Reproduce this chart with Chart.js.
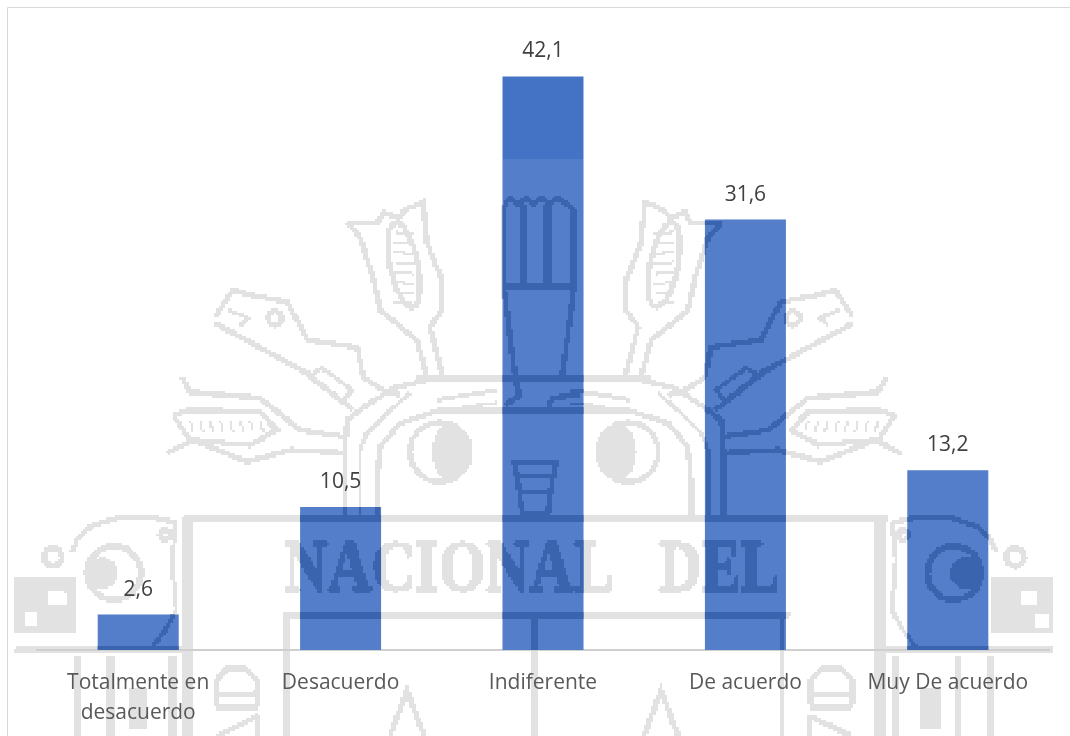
<!DOCTYPE html>
<html>
<head>
<meta charset="utf-8">
<style>
html,body{margin:0;padding:0;background:#fff;overflow:hidden}
#wrap{width:1070px;height:736px;position:relative}
</style>
<script src="https://cdn.jsdelivr.net/npm/chart.js@4"></script>
</head>
<body>
<div id="wrap"><canvas id="c" width="1070" height="736"></canvas></div>
<script>
const categories = [['Totalmente en','desacuerdo'],'Desacuerdo','Indiferente','De acuerdo','Muy De acuerdo'];
const percentages = [2.6, 10.5, 42.1, 31.6, 13.2];
const barColor = '#4472C4';
const UI_FONT = '"Open Sans", sans-serif';

// Crest behind the plot, rasterised coarsely into a one-colour mask.
const CELL = 2.3, W = 1070, H = 736, AXIS = 534;
function crestShapes(g){
  const line = (pts, w, close) => {
    g.lineWidth = w || 5; g.beginPath();
    pts.forEach((p,i)=> i ? g.lineTo(p[0],p[1]) : g.moveTo(p[0],p[1]));
    if (close) g.closePath();
    g.stroke();
  };
  const ring = (x,y,r,w) => { g.lineWidth = w||5; g.beginPath(); g.arc(x,y,r,0,Math.PI*2); g.stroke(); };
  const box = (x,y,w,h) => g.fillRect(x,y,w,h);
  const oval = (x,y,rx,ry,rot,w) => { g.lineWidth = w||5; g.beginPath(); g.ellipse(x,y,rx,ry,rot,0,Math.PI*2); g.stroke(); };
  const halves = (draw) => {
    g.save(); draw(); g.restore();
    g.save(); g.translate(2*AXIS,0); g.scale(-1,1); draw(); g.restore();
  };

  // frame bands and centre post
  box(183,516,704,6);
  box(283,612,507,6);
  box(531,612,8,124);

  // lettering
  g.font = 'bold 71px "Liberation Serif", serif';
  g.lineWidth = 2;
  const fit = (t,x0,x1) => {
    g.save(); g.translate(x0,590);
    g.scale((x1-x0)/g.measureText(t).width,1);
    g.fillText(t,0,0); g.strokeText(t,0,0); g.restore();
  };
  fit('NACIONAL',284,614);
  fit('DEL',659,780);

  // torch
  line([[503,290],[503,208],[510,198],[518,204],[526,198],[534,204],[542,198],[550,204],[558,198],[566,204],[574,210],[574,290]],5);
  box(519,204,8,80); box(544,204,8,80);
  box(503,283,72,6);
  line([[504,289],[515,377]],5); line([[574,289],[562,377]],5);
  box(417,375,234,6);
  line([[515,380],[520,395],[505,405]],5);
  line([[580,395],[552,398],[548,412]],5);
  box(437,408,194,5);
  // urn under the torch
  line([[514,462],[556,462],[552,482],[548,514],[522,514],[518,482]],5,true);
  box(519,474,32,4); box(521,490,28,4);

  halves(() => {
    // arches
    line([[345,516],[345,448],[347,420],[367,405],[393,388],[427,380]],5);
    line([[360,516],[360,450],[367,433],[387,413],[410,393]],4);
    line([[377,516],[377,480],[380,447],[400,423],[437,411]],5);
    line([[437,400],[497,390]],4);
    line([[462,407],[497,403]],3);

    // tulip
    line([[347,223],[378,222],[383,212],[398,218],[405,210],[423,202],[427,243],[442,280],[442,310],[430,327],[443,377]],5);
    line([[347,223],[360,237],[373,277],[380,310],[417,340],[427,378]],5);
    oval(404,265,14,43,-0.2,5);
    for (let y=232;y<305;y+=10){ line([[394,y],[414,y+2]],2); }

    // bird head and neck
    line([[215,317],[233,290],[250,295],[287,302],[297,320],[307,340],[357,347],[363,377],[383,390],[400,395]],5);
    line([[215,323],[307,373],[353,410]],5);
    line([[228,310],[248,318],[240,326]],4);
    ring(275,318,7,5);
    line([[308,376],[322,368],[352,390],[342,402]],4,true);

    // maize leaf
    line([[182,377],[190,392],[260,398],[300,430],[347,437]],5);
    line([[173,415],[190,410],[260,412],[277,430],[250,445],[190,440],[173,415]],5);
    line([[167,453],[193,440],[247,462],[290,450],[345,453]],5);
    for (let x=190;x<266;x+=10){ line([[x,420],[x+3,432]],2); }

    // medallion with crescent
    ring(440,452,30,5);
    g.beginPath(); g.ellipse(450,452,18,28,0,0,Math.PI*2); g.fill();

    // lower beast: head, eye, corner block
    line([[72,552],[78,538],[92,526],[117,518],[150,517],[176,523]],5);
    line([[176,523],[172,560],[176,610],[165,630],[150,650]],4);
    ring(114,573,27,6);
    g.beginPath(); g.arc(102,573,16,0,Math.PI*2); g.fill();
    ring(53,557,9,6);
    ring(165,535,5,5);
    box(15,577,61,56);
    box(15,647,169,6);

    // legs and base below the band
    box(183,520,10,216);
    box(283,612,6,124);
    box(74,655,7,81); box(107,655,7,81); box(128,687,20,43); box(169,655,7,81);

    // small lamp and horns at the foot
    line([[216,705],[216,680],[228,668],[245,668],[257,680],[257,705]],5);
    box(216,692,42,5); box(216,705,42,5);
    line([[217,736],[258,716]],5); line([[258,716],[258,736]],5);
    line([[390,736],[407,690],[424,736]],5);
  });

  // clear the windows inside the corner blocks
  g.globalCompositeOperation = 'destination-out';
  [[48,592,18,14],[24,612,14,14],[1020,592,18,14],[1034,614,14,14]].forEach(r => box(r[0],r[1],r[2],r[3]));
  g.globalCompositeOperation = 'source-over';
}

function crestMask(color){
  const w = Math.ceil(W/CELL), h = Math.ceil(H/CELL);
  const off = document.createElement('canvas'); off.width = w; off.height = h;
  const g = off.getContext('2d');
  g.scale(1/CELL,1/CELL);
  g.fillStyle = g.strokeStyle = '#000';
  crestShapes(g);
  const img = g.getImageData(0,0,w,h), d = img.data;
  const rgb = [parseInt(color.slice(1,3),16),parseInt(color.slice(3,5),16),parseInt(color.slice(5,7),16)];
  for (let i=0;i<d.length;i+=4){
    const on = d[i+3] > 105;
    d[i]=rgb[0]; d[i+1]=rgb[1]; d[i+2]=rgb[2]; d[i+3]= on ? 255 : 0;
  }
  g.putImageData(img,0,0);
  return off;
}
const maskLight = crestMask('#E2E2E2');
const maskDark = crestMask('#3B64AE');
const CREST_TOP = 159;

function paintMask(ctx, mask){
  ctx.save();
  ctx.imageSmoothingEnabled = false;
  ctx.drawImage(mask,0,0,Math.ceil(W/CELL)*CELL,Math.ceil(H/CELL)*CELL);
  ctx.restore();
}

const crestPlugin = {
  id:'crest',
  beforeDraw(chart){
    const ctx = chart.ctx;
    paintMask(ctx, maskLight);
    ctx.save();
    ctx.strokeStyle = '#D9D9D9'; ctx.lineWidth = 1;
    ctx.beginPath(); ctx.moveTo(7.5,736); ctx.lineTo(7.5,7.5); ctx.lineTo(1070,7.5); ctx.stroke();
    ctx.restore();
  },
  afterDatasetsDraw(chart){
    const ctx = chart.ctx;
    chart.getDatasetMeta(0).data.forEach(bar => {
      const x = bar.x - bar.width/2;
      ctx.save();
      ctx.beginPath(); ctx.rect(x, bar.y, bar.width, bar.base - bar.y); ctx.clip();
      ctx.fillStyle = 'rgba(255,255,255,0.09)';
      ctx.fillRect(x, CREST_TOP, bar.width, H);
      paintMask(ctx, maskDark);
      ctx.restore();
    });
  },
  afterDraw(chart){
    const ctx = chart.ctx;
    ctx.save();
    ctx.font = '21px ' + UI_FONT;
    ctx.fillStyle = '#404040';
    ctx.textAlign = 'center'; ctx.textBaseline = 'middle';
    chart.getDatasetMeta(0).data.forEach((bar,i) => {
      ctx.fillText(String(percentages[i]).replace('.',','), bar.x, bar.y - 25);
    });
    ctx.restore();
  }
};

new Chart(document.getElementById('c'),{
  type:'bar',
  data:{labels:categories,datasets:[{data:percentages,backgroundColor:barColor,borderWidth:0,
    barPercentage:0.4,categoryPercentage:1}]},
  plugins:[crestPlugin],
  options:{
    responsive:false,animation:false,
    layout:{padding:{left:37,right:21,top:37,bottom:0}},
    plugins:{legend:{display:false},tooltip:{enabled:false}},
    scales:{
      y:{display:false,min:0,max:45},
      x:{
        grid:{display:false,drawTicks:false},
        border:{display:true,color:'#CFCFCF',width:2},
        ticks:{color:'#595959',font:{family:'"Open Sans", sans-serif',size:21,lineHeight:1.43},padding:18,maxRotation:0,autoSkip:false},
        afterFit(s){ s.height = 86; }
      }
    }
  }
});
</script>
</body>
</html>
